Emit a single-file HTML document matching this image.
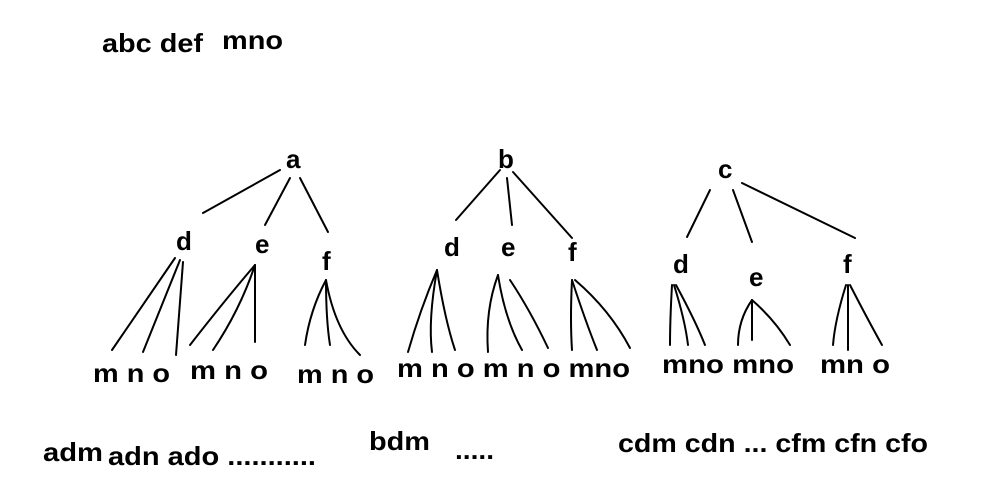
<!DOCTYPE html>
<html><head><meta charset="utf-8"><style>
html,body{margin:0;padding:0;background:#fff;}
svg{display:block;}
text{font-family:"Liberation Sans",sans-serif;font-weight:bold;font-size:26px;fill:#000;}
path,line{stroke:#000;stroke-width:2;fill:none;stroke-linecap:round;}
</style></head><body>
<svg width="991" height="498" viewBox="0 0 991 498">
<text x="102" y="52" textLength="101" lengthAdjust="spacingAndGlyphs">abc def</text><text x="222" y="49" textLength="61" lengthAdjust="spacingAndGlyphs">mno</text>

<text x="286" y="168">a</text>
<text x="498" y="168">b</text>
<text x="718" y="178">c</text>

<text x="176" y="250">d</text><text x="255" y="253">e</text><text x="322" y="270">f</text>
<text x="444" y="256">d</text><text x="501" y="256">e</text><text x="568" y="261">f</text>
<text x="673" y="273">d</text><text x="749" y="286">e</text><text x="843" y="273">f</text>

<!-- a -->
<line x1="280" y1="170" x2="203" y2="213"/>
<line x1="290" y1="178" x2="265" y2="225"/>
<line x1="300" y1="178" x2="328" y2="232"/>
<line x1="175" y1="258" x2="112" y2="350"/>
<line x1="180" y1="260" x2="143" y2="352"/>
<line x1="183" y1="262" x2="176" y2="355"/>
<path d="M255 265 Q225 300 190 345"/>
<path d="M255 265 Q240 310 213 350"/>
<line x1="255" y1="265" x2="255" y2="342"/>
<path d="M326 280 Q310 310 305 345"/>
<path d="M326 280 Q326 320 330 345"/>
<path d="M326 280 Q335 330 360 355"/>

<!-- b -->
<line x1="500" y1="170" x2="456" y2="220"/>
<line x1="507" y1="178" x2="512" y2="225"/>
<line x1="513" y1="172" x2="572" y2="238"/>
<path d="M437 270 Q420 310 408 352"/>
<path d="M437 270 Q428 320 432 352"/>
<path d="M437 270 Q445 320 455 350"/>
<path d="M498 275 Q485 310 488 352"/>
<path d="M498 275 Q505 320 522 350"/>
<path d="M510 280 Q530 310 548 348"/>
<path d="M572 280 Q570 320 572 350"/>
<path d="M572 280 Q585 320 597 350"/>
<path d="M575 280 Q610 310 630 348"/>

<!-- c -->
<line x1="710" y1="190" x2="687" y2="237"/>
<line x1="733" y1="190" x2="752" y2="242"/>
<line x1="742" y1="183" x2="855" y2="238"/>
<path d="M672 285 Q670 320 670 345"/>
<path d="M674 285 Q685 320 688 345"/>
<path d="M676 285 Q695 320 705 345"/>
<path d="M752 300 Q738 320 738 345"/>
<line x1="752" y1="300" x2="752" y2="340"/>
<path d="M752 300 Q775 320 790 345"/>
<path d="M846 285 Q835 320 833 345"/>
<line x1="848" y1="285" x2="848" y2="350"/>
<path d="M850 285 Q868 320 882 345"/>

<text x="93" y="382" textLength="77" lengthAdjust="spacingAndGlyphs">m n o</text>
<text x="190" y="379" textLength="78" lengthAdjust="spacingAndGlyphs">m n o</text>
<text x="297" y="383" textLength="77" lengthAdjust="spacingAndGlyphs">m n o</text>
<text x="397" y="377" textLength="233" lengthAdjust="spacingAndGlyphs">m n o m n o mno</text>
<text x="662" y="373" textLength="132" lengthAdjust="spacingAndGlyphs">mno mno</text>
<text x="820" y="373" textLength="70" lengthAdjust="spacingAndGlyphs">mn o</text>

<text x="43" y="461" textLength="60" lengthAdjust="spacingAndGlyphs">adm</text>
<text x="108" y="465" textLength="208" lengthAdjust="spacingAndGlyphs">adn ado ...........</text>
<text x="369" y="450" textLength="61" lengthAdjust="spacingAndGlyphs">bdm</text>
<text x="455" y="459" textLength="39" lengthAdjust="spacingAndGlyphs">.....</text>
<text x="618" y="452" textLength="310" lengthAdjust="spacingAndGlyphs">cdm cdn ... cfm cfn cfo</text>
</svg>
</body></html>
